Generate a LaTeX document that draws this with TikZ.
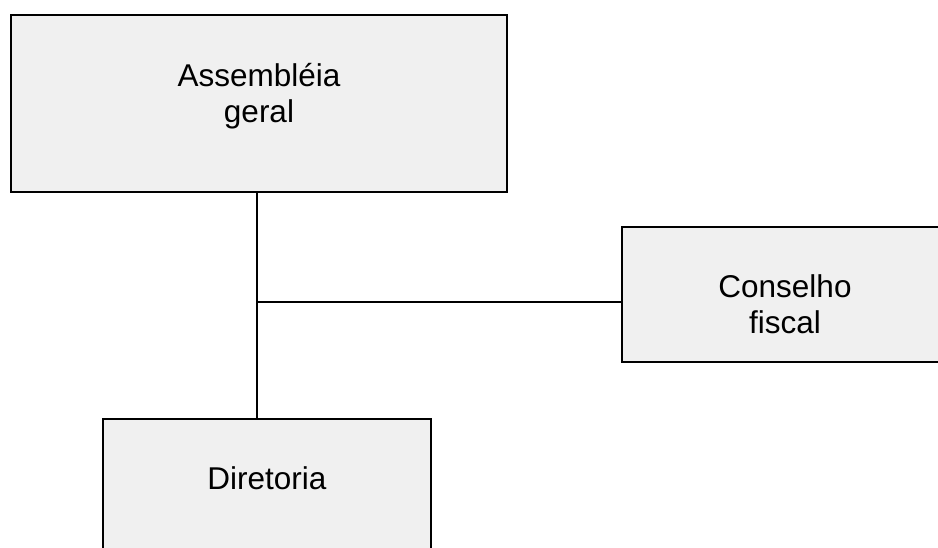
\documentclass[tikz,border=0pt]{standalone}
\usepackage{fontspec}
\setmainfont{Liberation Sans}
\definecolor{boxgray}{HTML}{F0F0F0}
\begin{document}
\begin{tikzpicture}[x=1pt,y=-1pt,
  box/.style={draw=black, line width=2.6pt, fill=boxgray, rectangle, inner sep=0pt},
  lbl/.style={font=\fontsize{31.5}{36}\selectfont, align=center, inner sep=0pt, text=black, anchor=base},
  conn/.style={draw=black, line width=2.8pt}]
\useasboundingbox (0,0) rectangle (938,547);
\clip (0,0) rectangle (938,547);
\node[box, minimum width=496pt, minimum height=177pt] (asm) at (259,103.5) {};
\node[box, minimum width=330pt, minimum height=135pt] (cons) at (787,294.5) {};
\node[box, minimum width=328pt, minimum height=160pt] (dir) at (267,499) {};
\node[lbl] (asmtxt) at (259,122.5) {Assembléia\\geral};
\node[lbl] (constxt) at (785,333.5) {Conselho\\fiscal};
\node[lbl] (dirtxt) at (267,489) {Diretoria};
\coordinate (J) at (257,302);
\draw[conn] (asm.south -| J) -- (dir.north -| J);
\draw[conn] (J) -- (J -| cons.west);
\end{tikzpicture}
\end{document}
